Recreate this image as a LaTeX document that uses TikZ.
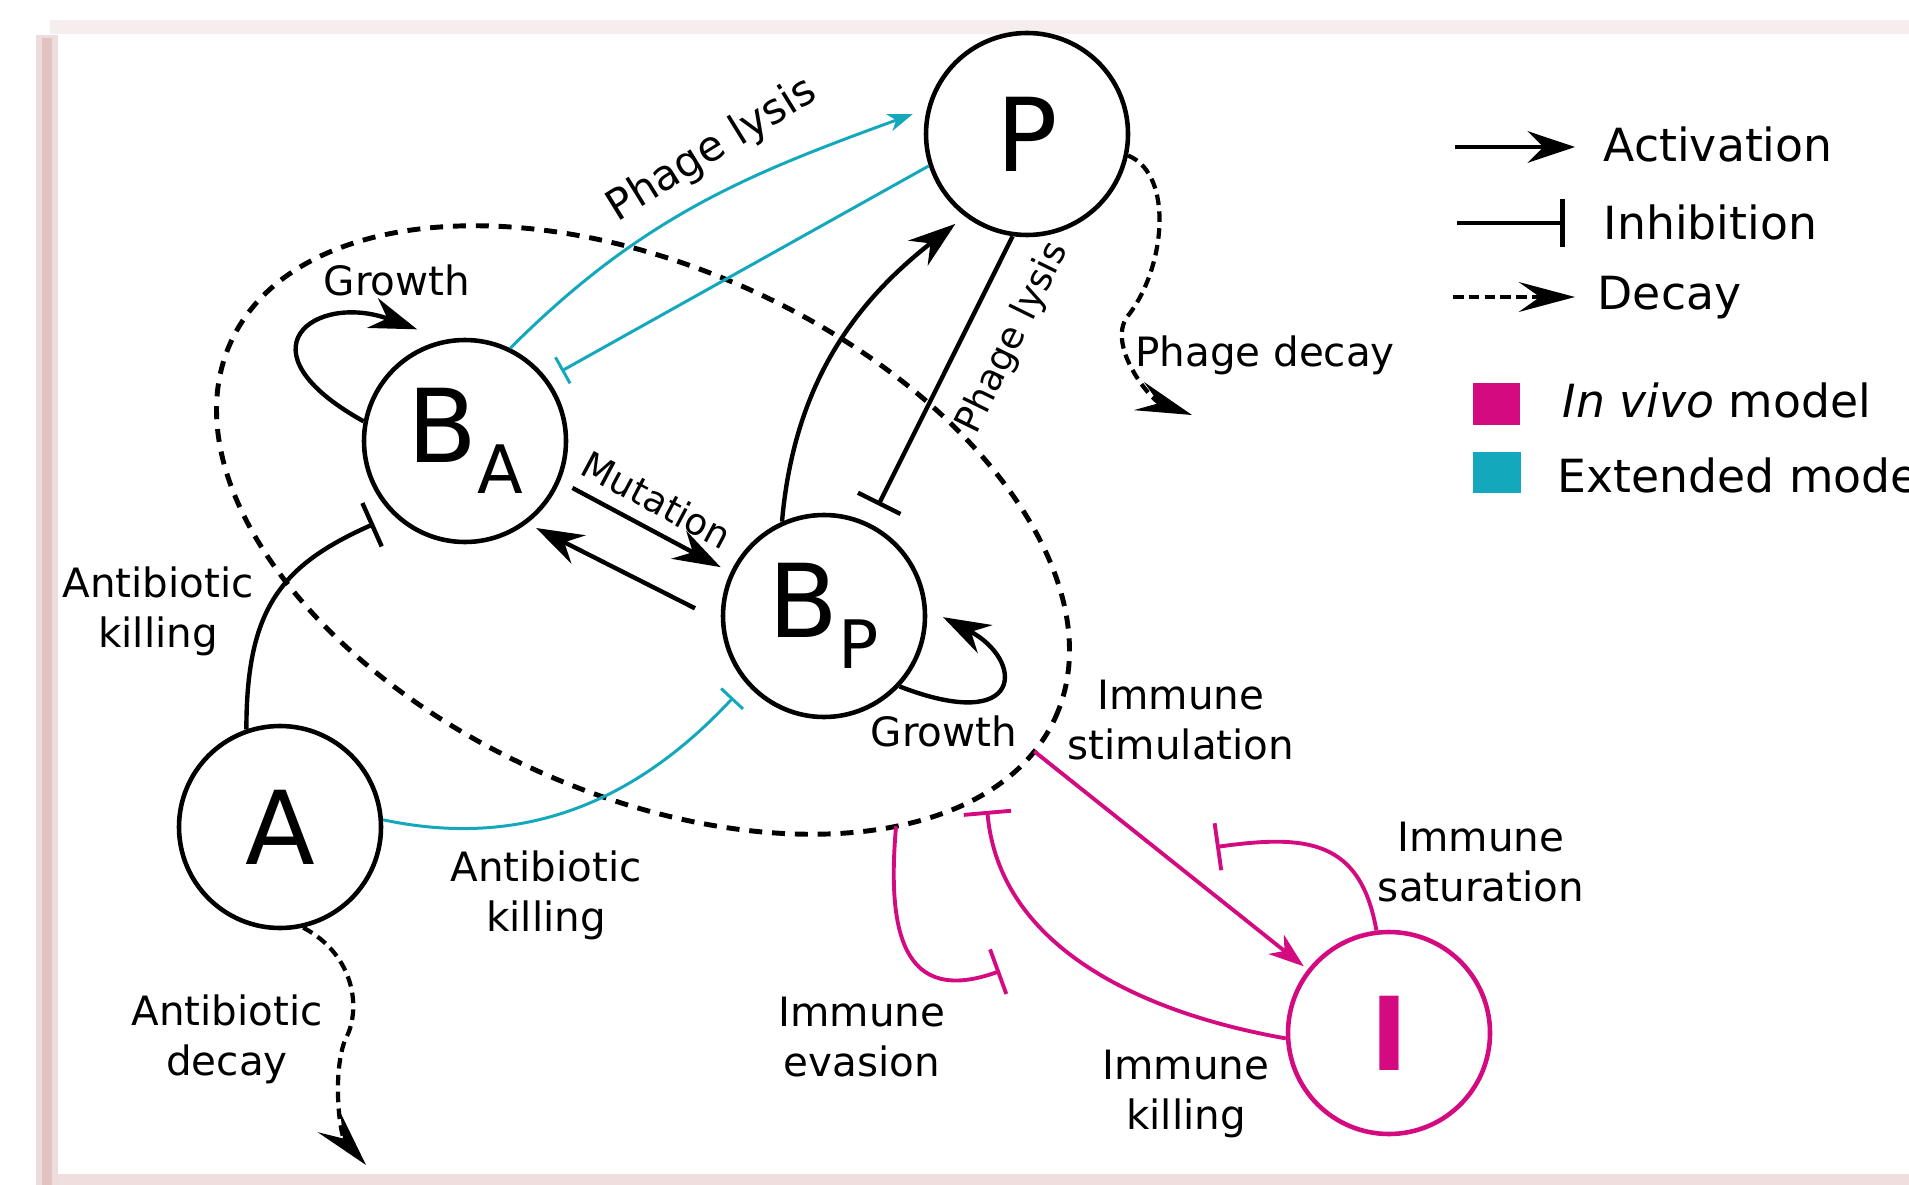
\documentclass[tikz,border=0pt]{standalone}
\usepackage{fontspec}
\setmainfont{DejaVu Sans}
\usetikzlibrary{arrows.meta,shapes.geometric}
\definecolor{immune}{RGB}{212,10,128}
\definecolor{extended}{RGB}{20,168,188}
\definecolor{frame}{RGB}{220,184,184}
\definecolor{frametop}{RGB}{246,238,238}
\definecolor{framebot}{RGB}{240,222,222}
\newcommand{\lowidx}[1]{\raisebox{-0.3em}{\fontsize{19pt}{19pt}\selectfont #1}}

\begin{document}
\begin{tikzpicture}[
  main/.style = {draw, circle, line width=1.3pt, minimum size=2.02cm, inner sep=0pt, fill=white, font=\fontsize{29}{30}\selectfont},
  lbl/.style = {inner sep=1pt, align=center, font=\fontsize{11.5}{14.3}\selectfont},
  small/.style = {inner sep=1pt, font=\fontsize{10.5}{12}\selectfont},
  leg/.style = {inner sep=0pt, anchor=base west, font=\fontsize{13}{15}\selectfont},
  act/.style = {line width=1.25pt, -{Stealth[length=13.5pt, width=9pt, inset=4.5pt]}},
  inh/.style = {line width=1.25pt, -{Bar[width=13.5pt]}},
  decay/.style = {line width=1.2pt, dash pattern=on 3pt off 1.8pt, -{Stealth[length=16pt, width=8.5pt, inset=6pt]}},
  ext/.style = {extended, line width=0.85pt},
  extact/.style = {-{Stealth[length=7pt, width=5pt, inset=2pt]}},
  extinh/.style = {-{Bar[width=8.5pt]}},
  imm/.style = {immune, line width=1.1pt},
  immact/.style = {-{Stealth[length=10pt, width=7pt, inset=3pt]}},
  imminh/.style = {-{Bar[width=13.5pt]}}
]
\useasboundingbox (0,0) rectangle (19.09,-11.84);
\fill[white] (0,0) rectangle (19.09,-11.84);
\draw[line width=0.14cm, frametop] (0.5,-0.27) -- (19.2,-0.27);
\draw[line width=0.12cm, framebot] (0.4,-11.80) -- (19.2,-11.80);
\draw[line width=0.22cm, frame!50] (0.47,-0.35) -- (0.47,-11.9);
\draw[line width=0.1cm, frame!85] (0.47,-0.38) -- (0.47,-11.9);

\node[draw, ellipse, line width=1.4pt, dash pattern=on 3.7pt off 2.8pt, minimum width=9.06cm, minimum height=5.26cm, rotate=-24.5, inner sep=0pt, outer sep=0pt] (colony) at (6.43,-5.30) {};

\node[main] (P) at (10.27,-1.34) {P};
\node[main] (BA) at (4.65,-4.41) {B\lowidx{A}};
\node[main] (BP) at (8.24,-6.16) {B\lowidx{P}};
\node[main] (A) at (2.80,-8.27) {A};
\node[main, draw=immune, text=immune, font=\fontsize{29}{30}\selectfont\bfseries] (I) at (13.89,-10.33) {I};

\coordinate (adecay) at (3.66,-11.65);
\coordinate (pdecay) at (11.92,-4.15);
\coordinate (satend) at (12.16,-8.47);
\coordinate (evend) at (10.00,-9.71);

\draw[act, shorten >=0.3cm] (BA.169) .. controls (2.35,-3.5) and (3.15,-2.92) .. (BA.101);
\draw[act, shorten >=0.18cm] (BP.-43) .. controls (10.25,-7.35) and (10.25,-6.6) .. (BP.4.5);
\draw[act, shorten <=0.14cm, shorten >=0.11cm] (BA.-23) -- (BP.155);
\draw[act, shorten <=0.29cm, shorten >=0.1cm] (BP.183) -- (BA.-53);
\draw[act, shorten >=0.12cm] (BP.114) to[out=85, in=218] (P.233);
\draw[inh, shorten >=0.2cm] (P.262) -- (BP.64);
\draw[inh, shorten >=0.21cm] (A.109) to[out=90, in=204, looseness=1.2] (BA.226);
\draw[ext, extact, shorten >=0.15cm] (BA.64) to[out=45, in=200] (P.166);
\draw[ext, extinh, shorten >=0.16cm] (P.198) -- (BA.37);
\draw[ext, extinh, shorten >=0.19cm] (A.4) to[out=-12, in=227] (BP.221);
\draw[decay] (A.-77) .. controls (3.55,-9.55) and (3.62,-10.10) .. (3.45,-10.40) .. controls (3.32,-10.75) and (3.40,-11.35) .. (adecay);
\draw[decay] (P.-12) .. controls (11.75,-1.75) and (11.65,-2.70) .. (11.27,-3.17) .. controls (11.07,-3.46) and (11.50,-4.00) .. (pdecay);
\draw[imm, immact, shorten >=0.05cm] (colony.-5) -- (I.142);
\draw[imm, imminh] (I.97) to[out=100, in=8, looseness=1.3] (satend);
\draw[imm, imminh, shorten >=0.18cm] (I.183) to[out=170, in=-85] (colony.-13.6);
\draw[imm, imminh] (colony.-25) to[out=-95, in=200, looseness=1.5] (evend);

\node[lbl] (growa) at (3.97,-2.80) {Growth};
\node[lbl] (growp) at (9.44,-7.31) {Growth};
\node[small, rotate=-28] (mut) at (6.57,-5.00) {Mutation};
\node[lbl, font=\fontsize{12}{14}\selectfont, rotate=31.7] (lysa) at (7.12,-1.50) {Phage lysis};
\node[small, rotate=63.8] (lysp) at (10.13,-3.38) {Phage lysis};
\node[lbl] (killa) at (1.58,-6.11) {Antibiotic\\killing};
\node[lbl] (killp) at (5.46,-8.95) {Antibiotic\\killing};
\node[lbl] (adec) at (2.27,-10.39) {Antibiotic\\decay};
\node[lbl, anchor=west] (pdec) at (11.31,-3.55) {Phage decay};
\node[lbl] (stim) at (11.81,-7.20) {Immune\\stimulation};
\node[lbl] (sat) at (14.81,-8.62) {Immune\\saturation};
\node[lbl] (evas) at (8.62,-10.37) {Immune\\evasion};
\node[lbl] (ikill) at (11.86,-10.94) {Immune\\killing};

\coordinate (la0) at (14.55,-1.47);
\coordinate (la1) at (15.75,-1.47);
\coordinate (li0) at (14.57,-2.23);
\coordinate (li1) at (15.65,-2.23);
\coordinate (ld0) at (14.53,-2.97);
\coordinate (ld1) at (15.75,-2.97);
\draw[act, line width=1.3pt] (la0) -- (la1);
\draw[inh, line width=1.3pt] (li0) -- (li1);
\draw[decay, dash pattern=on 3pt off 1.5pt] (ld0) -- (ld1);
\node[leg] (lact) at (16.03,-1.62) {Activation};
\node[leg] (linh) at (16.03,-2.40) {Inhibition};
\node[leg] (ldec) at (15.97,-3.10) {Decay};
\node[fill=immune, minimum width=0.47cm, minimum height=0.42cm, inner sep=0pt] (lvivo) at (14.965,-4.04) {};
\node[fill=extended, minimum width=0.48cm, minimum height=0.41cm, inner sep=0pt] (lext) at (14.97,-4.725) {};
\node[leg] (tvivo) at (15.62,-4.18) {\textit{In vivo} model};
\node[leg] (lexttxt) at (15.57,-4.92) {Extended model};
\end{tikzpicture}
\end{document}
